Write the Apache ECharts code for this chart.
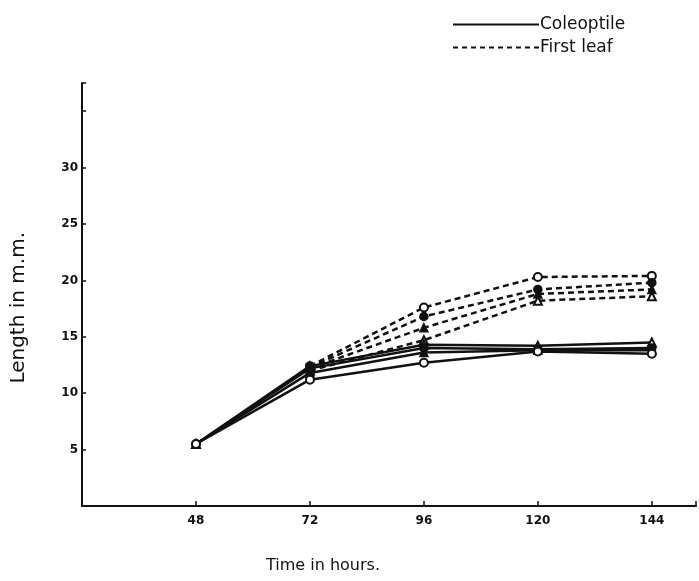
<!DOCTYPE html>
<html>
<head>
<meta charset="utf-8">
<script src="https://cdn.jsdelivr.net/npm/echarts@6/dist/echarts.min.js"></script>
<style>html,body{margin:0;padding:0;background:#fff}#c{width:699px;height:581px}</style>
</head>
<body>
<div id="c"></div>
<script>
// Data (hours on x, length in mm on y)
const hours = [48, 72, 96, 120, 144];
const xTickLabels = [48, 72, 96, 120, 144];
const yTickLabels = [5, 10, 15, 20, 25, 30];

const coleoptileA = [5.5, 12.4, 14.3, 14.2, 14.5];
const coleoptileB = [5.5, 12.2, 14.0, 13.9, 14.0];
const coleoptileC = [5.5, 11.8, 13.6, 13.8, 13.8];
const coleoptileD = [5.5, 11.2, 12.7, 13.7, 13.5];

const firstLeafA = [null, 12.4, 17.6, 20.3, 20.4];
const firstLeafB = [null, 12.3, 16.8, 19.2, 19.8];
const firstLeafC = [null, 12.2, 15.8, 18.8, 19.2];
const firstLeafD = [null, 12.0, 14.7, 18.2, 18.6];

const INK = '#111';
const pairs = arr => hours.map((h, i) => [h, arr[i]]).filter(p => p[1] !== null);

function mk(name, arr, dashed, symbol) {
  return {
    type: 'line', name: name, data: pairs(arr),
    symbol: symbol, symbolSize: 8, showSymbol: true,
    lineStyle: { color: INK, width: 2.5, type: dashed ? [6, 4] : 'solid' },
    itemStyle: { color: INK, borderColor: INK, borderWidth: 1.5 },
    emphasis: { disabled: true }, z: dashed ? 3 : 4, animation: false
  };
}

const chart = echarts.init(document.getElementById('c'), null, { renderer: 'canvas' });
const series = [
  mk('c1', coleoptileA, false, 'emptyTriangle'),
  mk('c2', coleoptileB, false, 'circle'),
  mk('c3', coleoptileC, false, 'triangle'),
  mk('c4', coleoptileD, false, 'emptyCircle'),
  mk('f1', firstLeafA, true, 'emptyCircle'),
  mk('f2', firstLeafB, true, 'circle'),
  mk('f3', firstLeafC, true, 'triangle'),
  mk('f4', firstLeafD, true, 'emptyTriangle'),
  { type: 'line', name: 'Coleoptile', data: [], symbol: 'none',
    lineStyle: { color: INK, width: 2, type: 'solid' }, itemStyle: { color: INK } },
  { type: 'line', name: 'First leaf', data: [], symbol: 'none',
    lineStyle: { color: INK, width: 2, type: [5, 4] }, itemStyle: { color: INK } }
];

chart.setOption({
  backgroundColor: '#fff',
  animation: false,
  legend: {
    data: ['Coleoptile', 'First leaf'],
    orient: 'vertical', left: 447, top: 11, itemWidth: 86, itemHeight: 12, itemGap: 6,
    itemStyle: { opacity: 0 },
    selectedMode: false,
    textStyle: { color: INK, fontSize: 17, fontFamily: 'DejaVu Sans', padding: [0, 0, 0, -4] }
  },
  grid: { left: 82, right: 0, top: 83, bottom: 75, containLabel: false },
  xAxis: {
    type: 'value', min: 24, max: 153.3, interval: 24,
    axisLine: { lineStyle: { color: INK, width: 2 } },
    axisTick: { inside: true, length: 5, lineStyle: { color: INK, width: 1.5 } },
    splitLine: { show: false },
    axisLabel: {
      color: INK, fontSize: 12, fontWeight: 'bold', fontFamily: 'DejaVu Sans', margin: 9,
      formatter: v => (xTickLabels.indexOf(v) >= 0 ? String(v) : '')
    }
  },
  yAxis: {
    type: 'value', min: 0, max: 37.5, interval: 5,
    axisLine: { lineStyle: { color: INK, width: 2 } },
    axisTick: { inside: true, length: 4, lineStyle: { color: INK, width: 1.5 } },
    splitLine: { show: false },
    axisLabel: {
      color: INK, fontSize: 12, fontWeight: 'bold', fontFamily: 'DejaVu Sans', margin: 4,
      formatter: v => (yTickLabels.indexOf(v) >= 0 ? String(v) : '')
    }
  },
  graphic: [
    { type: 'text', left: 9, top: 232, rotation: Math.PI / 2,
      style: { text: 'Length in m.m.', fill: INK, font: '20px "DejaVu Sans"' } },
    { type: 'text', left: 266, top: 558,
      style: { text: 'Time in hours.', fill: INK, font: '16px "DejaVu Sans"' } }
  ],
  series: series
});
</script>
</body>
</html>
